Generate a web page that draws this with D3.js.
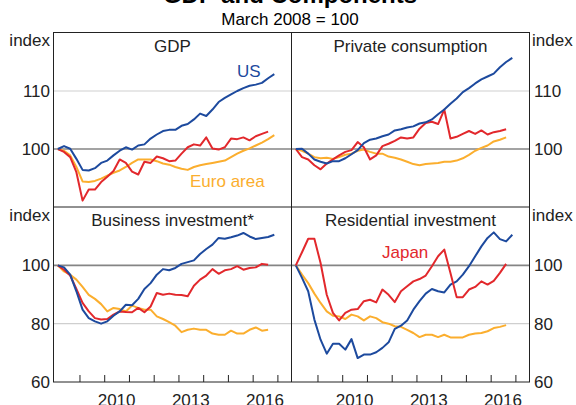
<!DOCTYPE html>
<html><head><meta charset="utf-8">
<script src="https://cdn.jsdelivr.net/npm/d3@7"></script>
<style>
body{margin:0;background:#fff;}
svg{display:block;font-family:Arial,"Liberation Sans",sans-serif;}
</style></head>
<body><svg id="c" width="576" height="405"></svg>
<script>
// ---- data (index, March 2008 = 100), quarterly from March 2008 ----
const gdpUS    = [100,100.5,100.05,98.3,96.4,96.3,96.7,97.6,98.0,98.9,99.7,100.3,99.9,100.6,100.8,101.8,102.5,103.1,103.3,103.3,104.0,104.3,105.1,106.1,105.7,106.8,108.1,108.8,109.4,110.0,110.5,110.9,111.1,111.4,112.2,112.9];
const gdpEuro  = [100,99.7,98.9,96.9,94.4,94.3,94.5,94.9,95.4,95.9,96.3,96.9,97.6,98.2,98.2,98.2,97.9,97.5,97.3,96.9,96.6,96.4,96.9,97.2,97.4,97.6,97.8,98.0,98.6,99.2,99.7,100.1,100.6,101.1,101.7,102.4];
const gdpJapan = [100,99.5,98.6,96.0,91.1,93.0,93.0,94.3,95.2,96.2,98.2,97.6,96.1,95.6,97.8,97.6,98.7,98.4,97.9,98.0,99.2,100.3,100.8,100.6,102.0,100.1,99.9,100.3,101.8,101.7,102.0,101.5,102.2,102.6,103.0];

const pcUS     = [100,100.05,99.2,98.2,97.8,97.5,97.9,97.9,98.4,99.1,99.8,101.0,101.6,101.8,102.2,102.5,103.2,103.4,103.7,103.9,104.4,104.6,105.1,106.0,106.8,107.8,108.7,109.8,110.5,111.3,112.0,112.5,113.0,114.1,115.0,115.7];
const pcEuro   = [100,99.7,99.2,98.6,98.4,98.5,98.3,98.6,99.0,99.2,99.7,99.9,99.5,99.2,99.2,98.7,98.5,98.2,97.8,97.4,97.2,97.4,97.5,97.6,97.8,97.8,98.0,98.4,99.0,99.7,100.2,100.6,101.3,101.6,102.0];
const pcJapan  = [100,98.6,98.2,97.2,96.5,97.5,98.2,98.9,99.5,99.8,101.2,100.3,98.2,98.9,100.5,100.9,101.4,102.0,101.8,102.0,103.5,104.5,104.7,104.3,106.8,101.8,102.1,102.6,103.1,102.6,103.2,102.5,102.9,103.1,103.4];

const biUS     = [100,99.3,96.8,91.1,84.8,81.9,80.8,80.0,80.8,82.7,84.2,86.5,86.3,88.5,91.9,93.9,96.8,98.7,98.3,99.1,100.5,101.1,101.7,103.9,105.6,107.1,109.4,109.1,109.6,110.2,111.1,109.9,109.0,109.4,109.7,110.5];
const biEuro   = [100,97.9,96.8,95.1,92.6,89.9,88.5,86.7,84.2,85.4,85.0,84.2,86.2,85.4,84.8,84.8,82.5,81.6,80.5,79.3,77.1,77.9,78.3,77.9,77.9,76.6,76.2,76.2,77.6,76.6,76.6,77.9,78.7,77.6,77.9];
const biJapan  = [100,98.5,96.5,91.9,87.1,84.2,81.9,81.4,81.6,83.1,84.2,84.0,83.9,85.4,83.9,85.9,90.5,89.9,90.3,89.9,89.8,89.4,93.0,95.1,96.5,98.7,97.1,98.3,98.7,99.7,98.5,99.1,99.3,100.5,100.2];

const riUS     = [100,95.7,91.1,81.4,74.5,69.7,73.1,73.1,71.1,74.7,68.2,69.4,69.4,70.2,71.7,73.6,78.2,79.3,81.1,84.8,87.7,90.3,91.9,91.1,90.7,93.4,94.5,96.8,99.7,103.1,106.5,109.4,111.3,109.0,108.2,110.5];
const riEuro   = [100,96.8,93.9,90.3,87.1,84.2,82.7,82.5,81.6,83.1,82.5,81.1,82.5,81.9,80.5,80.0,79.1,78.9,77.9,76.8,75.4,76.2,76.2,75.4,76.2,75.3,75.3,75.3,76.2,76.6,76.8,77.4,78.5,78.9,79.5];
const riJapan  = [100,104.5,109.1,109.1,100.8,89.9,83.7,81.1,83.7,84.8,85.0,87.7,88.2,87.3,91.7,89.9,87.4,91.1,92.8,94.5,95.3,96.5,99.7,103.1,105.4,97.4,89.1,89.1,91.7,92.6,94.5,93.4,94.7,97.4,100.5];

const panelTitles = ["GDP","Private consumption","Business investment*","Residential investment"];
const yearTicks   = [2009,2010,2011,2012,2013,2014,2015,2016,2017];
const yearLabels  = [2010,2013,2016];
const topTicks    = [100,110];
const bottomTicks = [60,80,100];

// ---- styles ----
const colors = {US:"#1d4a9e", Euro:"#fbae2e", Japan:"#e2282c"};
const svg = d3.select("#c");
const FS = 17;

// title
svg.append("text").attr("x",290).attr("y",3).attr("text-anchor","middle")
  .attr("font-size",24).attr("font-weight","bold").text("GDP and Components");
svg.append("text").attr("x",290).attr("y",25).attr("text-anchor","middle")
  .attr("font-size",FS).text("March 2008 = 100");

const xL = [53.5,291.5], xR = [291.5,529.5];
const yT = [207,33], yB = [382,207];
const qTime = i => 2008.125 + i*0.25;

const panels = [
  {title:panelTitles[0], xr:xL, yr:yT, dom:[90,120], grid:topTicks, series:[["Euro",gdpEuro],["Japan",gdpJapan],["US",gdpUS]]},
  {title:panelTitles[1], xr:xR, yr:yT, dom:[90,120], grid:topTicks, series:[["Euro",pcEuro],["Japan",pcJapan],["US",pcUS]]},
  {title:panelTitles[2], xr:xL, yr:yB, dom:[60,120], grid:bottomTicks, series:[["Euro",biEuro],["Japan",biJapan],["US",biUS]]},
  {title:panelTitles[3], xr:xR, yr:yB, dom:[60,120], grid:bottomTicks, series:[["Euro",riEuro],["US",riUS],["Japan",riJapan]]}
];

panels.forEach((p,k)=>{
  const x = d3.scaleLinear().domain([2007.95,2017.57]).range(p.xr);
  const y = d3.scaleLinear().domain(p.dom).range(p.yr);
  p.x = x; p.y = y;
  const g = svg.append("g");
  // gridlines
  p.grid.filter(v=>v>p.dom[0]).forEach(v=>{
    g.append("line").attr("x1",p.xr[0]).attr("x2",p.xr[1]).attr("y1",y(v)).attr("y2",y(v))
      .attr("stroke", v===100 ? "#858585" : "#cfcfcf").attr("stroke-width", v===100 ? 1.6 : 1.2);
  });
  // lines
  const line = d3.line().x((d,i)=>x(qTime(i))).y(d=>y(d));
  p.series.forEach(([name,data])=>{
    g.append("path").datum(data).attr("d",line).attr("fill","none")
      .attr("stroke",colors[name]).attr("stroke-width",2).attr("stroke-linejoin","round");
  });
  // title
  g.append("text").attr("x",(p.xr[0]+p.xr[1])/2).attr("y",p.yr[1]+19).attr("text-anchor","middle")
    .attr("font-size",FS).attr("fill","#222").text(p.title);
});

// frame
const fr = svg.append("g").attr("stroke","#222").attr("stroke-width",1).attr("fill","none");
fr.append("rect").attr("x",53.5).attr("y",32.5).attr("width",476).attr("height",349.5);
fr.append("line").attr("x1",291.5).attr("x2",291.5).attr("y1",32.5).attr("y2",382);
fr.append("line").attr("x1",53.5).attr("x2",529.5).attr("y1",207).attr("y2",207);

// x axes (bottom panels)
[panels[2],panels[3]].forEach(p=>{
  const ax = d3.axisBottom(p.x).tickValues(yearTicks).tickSize(-7).tickFormat("");
  const g = svg.append("g").attr("transform","translate(0,382)").call(ax);
  g.select(".domain").remove();
  g.selectAll(".tick line").attr("stroke","#222");
  yearLabels.forEach(yv=>{
    svg.append("text").attr("x",p.x(yv+0.5)).attr("y",406).attr("text-anchor","middle")
      .attr("font-size",FS).attr("fill","#222").text(yv);
  });
});

// y axes
function yAxis(p, side){
  const ax = (side==="left" ? d3.axisLeft(p.y) : d3.axisRight(p.y))
    .tickValues(p.grid).tickSize(0).tickPadding(3).tickFormat(d3.format("d"));
  const g = svg.append("g").attr("transform",`translate(${side==="left"?p.xr[0]-0.5:p.xr[1]+1.5},0)`).call(ax);
  g.select(".domain").remove();
  g.selectAll("text").attr("font-size",FS).attr("fill","#222").attr("font-family","Arial,'Liberation Sans',sans-serif");
}
yAxis(panels[0],"left"); yAxis(panels[1],"right");
yAxis(panels[2],"left"); yAxis(panels[3],"right");

// "index" unit labels
[[50,46,"end"],[532,46,"start"],[50,221,"end"],[532,221,"start"]].forEach(([xx,yy,a])=>{
  svg.append("text").attr("x",xx).attr("y",yy).attr("text-anchor",a).attr("font-size",FS)
    .attr("fill","#222").text("index");
});

// series labels
svg.append("text").attr("x",237).attr("y",77).attr("font-size",FS).attr("fill",colors.US).text("US");
svg.append("text").attr("x",190).attr("y",187).attr("font-size",FS).attr("fill",colors.Euro).text("Euro area");
svg.append("text").attr("x",382).attr("y",258).attr("font-size",FS).attr("fill",colors.Japan).text("Japan");
</script></body></html>
